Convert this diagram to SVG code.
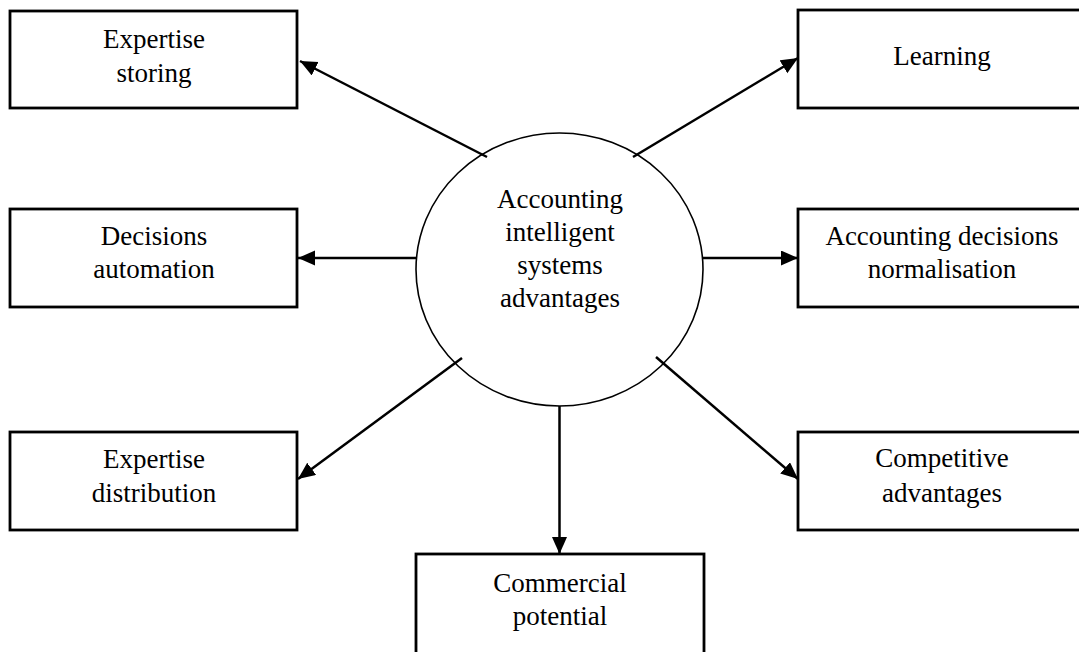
<svg xmlns="http://www.w3.org/2000/svg" width="1079" height="652" viewBox="0 0 1079 652">
<style>
.box{fill:#fff;stroke:#000;stroke-width:2.8}
.circ{fill:#fff;stroke:#000;stroke-width:1.6}
.t{font-family:"Liberation Serif","Times New Roman",serif;font-size:27px;fill:#000;text-anchor:middle}
.c{stroke:#000;stroke-width:2.5;fill:none;marker-end:url(#ah)}
</style>
<defs>
<marker id="ah" markerUnits="userSpaceOnUse" markerWidth="18" markerHeight="16" refX="17" refY="7.5" orient="auto">
<path d="M0,0 L17,7.5 L0,15 z" fill="#000"/>
</marker>
</defs>
<rect width="1079" height="652" fill="#fff"/>
<g id="connectors">
<line class="c" x1="487" y1="157" x2="300" y2="61"/>
<line class="c" x1="633" y1="157" x2="798" y2="58"/>
<line class="c" x1="417" y1="258" x2="298" y2="258"/>
<line class="c" x1="703" y1="258" x2="798" y2="258"/>
<line class="c" x1="462" y1="358" x2="298" y2="479"/>
<line class="c" x1="656" y1="357" x2="798" y2="479"/>
<line class="c" x1="559.5" y1="406" x2="559.5" y2="554"/>
</g>
<g id="center">
<ellipse class="circ" cx="559.5" cy="269.5" rx="143.5" ry="136.5" fill-opacity="0"/>
<text class="t" x="560" y="208">Accounting</text>
<text class="t" x="560" y="241">intelligent</text>
<text class="t" x="560" y="274">systems</text>
<text class="t" x="560" y="307">advantages</text>
</g>
<g id="expertise-storing">
<rect class="box" x="10" y="11" width="287" height="97"/>
<text class="t" x="154" y="48">Expertise</text>
<text class="t" x="154" y="82">storing</text>
</g>
<g id="learning">
<rect class="box" x="798" y="10" width="288" height="98"/>
<text class="t" x="942" y="65">Learning</text>
</g>
<g id="decisions-automation">
<rect class="box" x="10" y="209" width="287" height="98"/>
<text class="t" x="154" y="245">Decisions</text>
<text class="t" x="154" y="278">automation</text>
</g>
<g id="accounting-decisions">
<rect class="box" x="798" y="209" width="288" height="98"/>
<text class="t" x="942" y="245">Accounting decisions</text>
<text class="t" x="942" y="278">normalisation</text>
</g>
<g id="expertise-distribution">
<rect class="box" x="10" y="432" width="287" height="98"/>
<text class="t" x="154" y="468">Expertise</text>
<text class="t" x="154" y="502">distribution</text>
</g>
<g id="competitive-advantages">
<rect class="box" x="798" y="432" width="288" height="98"/>
<text class="t" x="942" y="467">Competitive</text>
<text class="t" x="942" y="502">advantages</text>
</g>
<g id="commercial-potential">
<rect class="box" x="416" y="554" width="288" height="110"/>
<text class="t" x="560" y="592">Commercial</text>
<text class="t" x="560" y="625">potential</text>
</g>
</svg>
